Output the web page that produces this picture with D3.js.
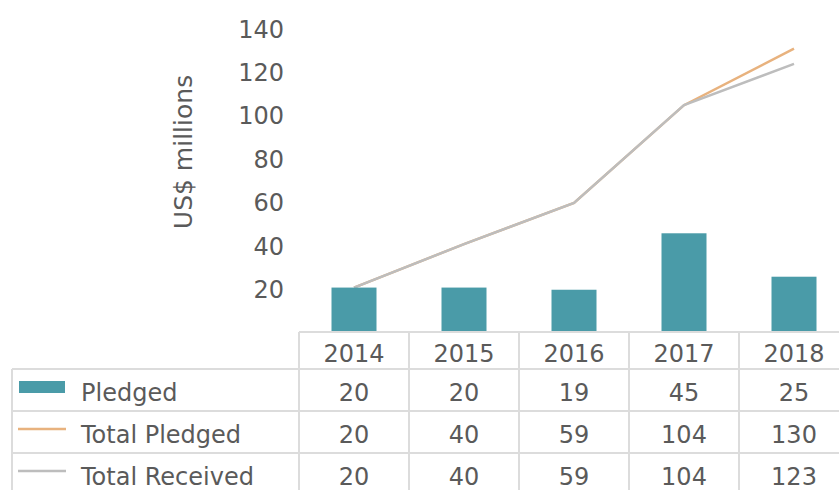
<!DOCTYPE html>
<html>
<head>
<meta charset="utf-8">
<script src="https://cdn.jsdelivr.net/npm/d3@7"></script>
<style>
  html, body { margin: 0; padding: 0; background: #fff; }
  svg { display: block; font-family: "DejaVu Sans", sans-serif; }
</style>
</head>
<body>
<svg id="chart" width="839" height="490"></svg>
<script>
const years = ["2014", "2015", "2016", "2017", "2018"];
const pledged = [20, 20, 19, 45, 25];
const totalPledged = [20, 40, 59, 104, 130];
const totalReceived = [20, 40, 59, 104, 123];
const yTicks = [20, 40, 60, 80, 100, 120, 140];
const seriesNames = ["Pledged", "Total Pledged", "Total Received"];
const yTitle = "US$ millions";

const colors = { bar: "#4a9ba8", pledgedLine: "#e8b27e", receivedLine: "#bdbdbd", text: "#5a5a5a", grid: "#dcdcdc" };
const fs = 24;

const svg = d3.select("#chart");
const x = d3.scaleBand().domain(years).range([299, 849]).padding(0);
const y = d3.scaleLinear().domain([0, 140]).range([331, 27]);

// y axis
const yAxis = svg.append("g")
  .attr("transform", "translate(299,0)")
  .call(d3.axisLeft(y).tickValues(yTicks).tickSize(0).tickPadding(15));
yAxis.select(".domain").remove();
yAxis.selectAll("text").attr("fill", colors.text).attr("dy", "0.42em")
  .style("font-size", fs + "px").style("font-family", "DejaVu Sans");

svg.append("text")
  .attr("transform", "translate(192,152) rotate(-90)")
  .attr("text-anchor", "middle")
  .attr("fill", colors.text)
  .style("font-size", "25px")
  .text(yTitle);

// lines
const line = d3.line().x((d, i) => x(years[i]) + x.bandwidth() / 2).y(d => y(d));
svg.append("path").datum(totalPledged).attr("d", line)
  .attr("fill", "none").attr("stroke", colors.pledgedLine).attr("stroke-width", 2.5);
svg.append("path").datum(totalReceived).attr("d", line)
  .attr("fill", "none").attr("stroke", colors.receivedLine).attr("stroke-width", 2.5);

// bars
const bw = 45;
svg.append("g").selectAll("rect").data(years).join("rect")
  .attr("x", d => x(d) + x.bandwidth() / 2 - bw / 2)
  .attr("width", bw)
  .attr("y", (d, i) => y(pledged[i]))
  .attr("height", (d, i) => y(0) - y(pledged[i]))
  .attr("fill", colors.bar);

// data table
const rowTop = [369, 411, 453];
const rowH = 42;
const headTop = 332;
const legendLeft = 12;
const g = svg.append("g").attr("stroke", colors.grid).attr("stroke-width", 2);

g.append("line").attr("x1", 299).attr("x2", 849).attr("y1", headTop).attr("y2", headTop);
rowTop.forEach(t => g.append("line").attr("x1", legendLeft).attr("x2", 849).attr("y1", t).attr("y2", t));
g.append("line").attr("x1", legendLeft).attr("x2", 849).attr("y1", rowTop[2] + rowH).attr("y2", rowTop[2] + rowH);
years.forEach(yr => g.append("line").attr("x1", x(yr)).attr("x2", x(yr)).attr("y1", headTop).attr("y2", 495));
g.append("line").attr("x1", legendLeft).attr("x2", legendLeft).attr("y1", rowTop[0]).attr("y2", 495);

const base = fs * 0.42;

// header text
svg.append("g").selectAll("text").data(years).join("text")
  .attr("x", d => x(d) + x.bandwidth() / 2)
  .attr("y", headTop + 20 + base)
  .attr("text-anchor", "middle")
  .attr("fill", colors.text)
  .style("font-size", fs + "px")
  .text(d => d);

// rows
const rowData = [pledged, totalPledged, totalReceived];
rowData.forEach((vals, r) => {
  const cy = rowTop[r] + rowH / 2 + 1;
  svg.append("g").selectAll("text").data(vals).join("text")
    .attr("x", (d, i) => x(years[i]) + x.bandwidth() / 2)
    .attr("y", cy + base)
    .attr("text-anchor", "middle")
    .attr("fill", colors.text)
    .style("font-size", fs + "px")
    .text(d => d);
  svg.append("text")
    .attr("x", 81)
    .attr("y", cy + base)
    .attr("fill", colors.text)
    .style("font-size", fs + "px")
    .text(seriesNames[r]);
});

// legend keys
svg.append("rect").attr("x", 19).attr("y", 381).attr("width", 46).attr("height", 12).attr("fill", colors.bar);
svg.append("line").attr("x1", 18).attr("x2", 66).attr("y1", 429).attr("y2", 429)
  .attr("stroke", colors.pledgedLine).attr("stroke-width", 2.5);
svg.append("line").attr("x1", 18).attr("x2", 66).attr("y1", 471).attr("y2", 471)
  .attr("stroke", colors.receivedLine).attr("stroke-width", 2.5);
</script>
</body>
</html>
